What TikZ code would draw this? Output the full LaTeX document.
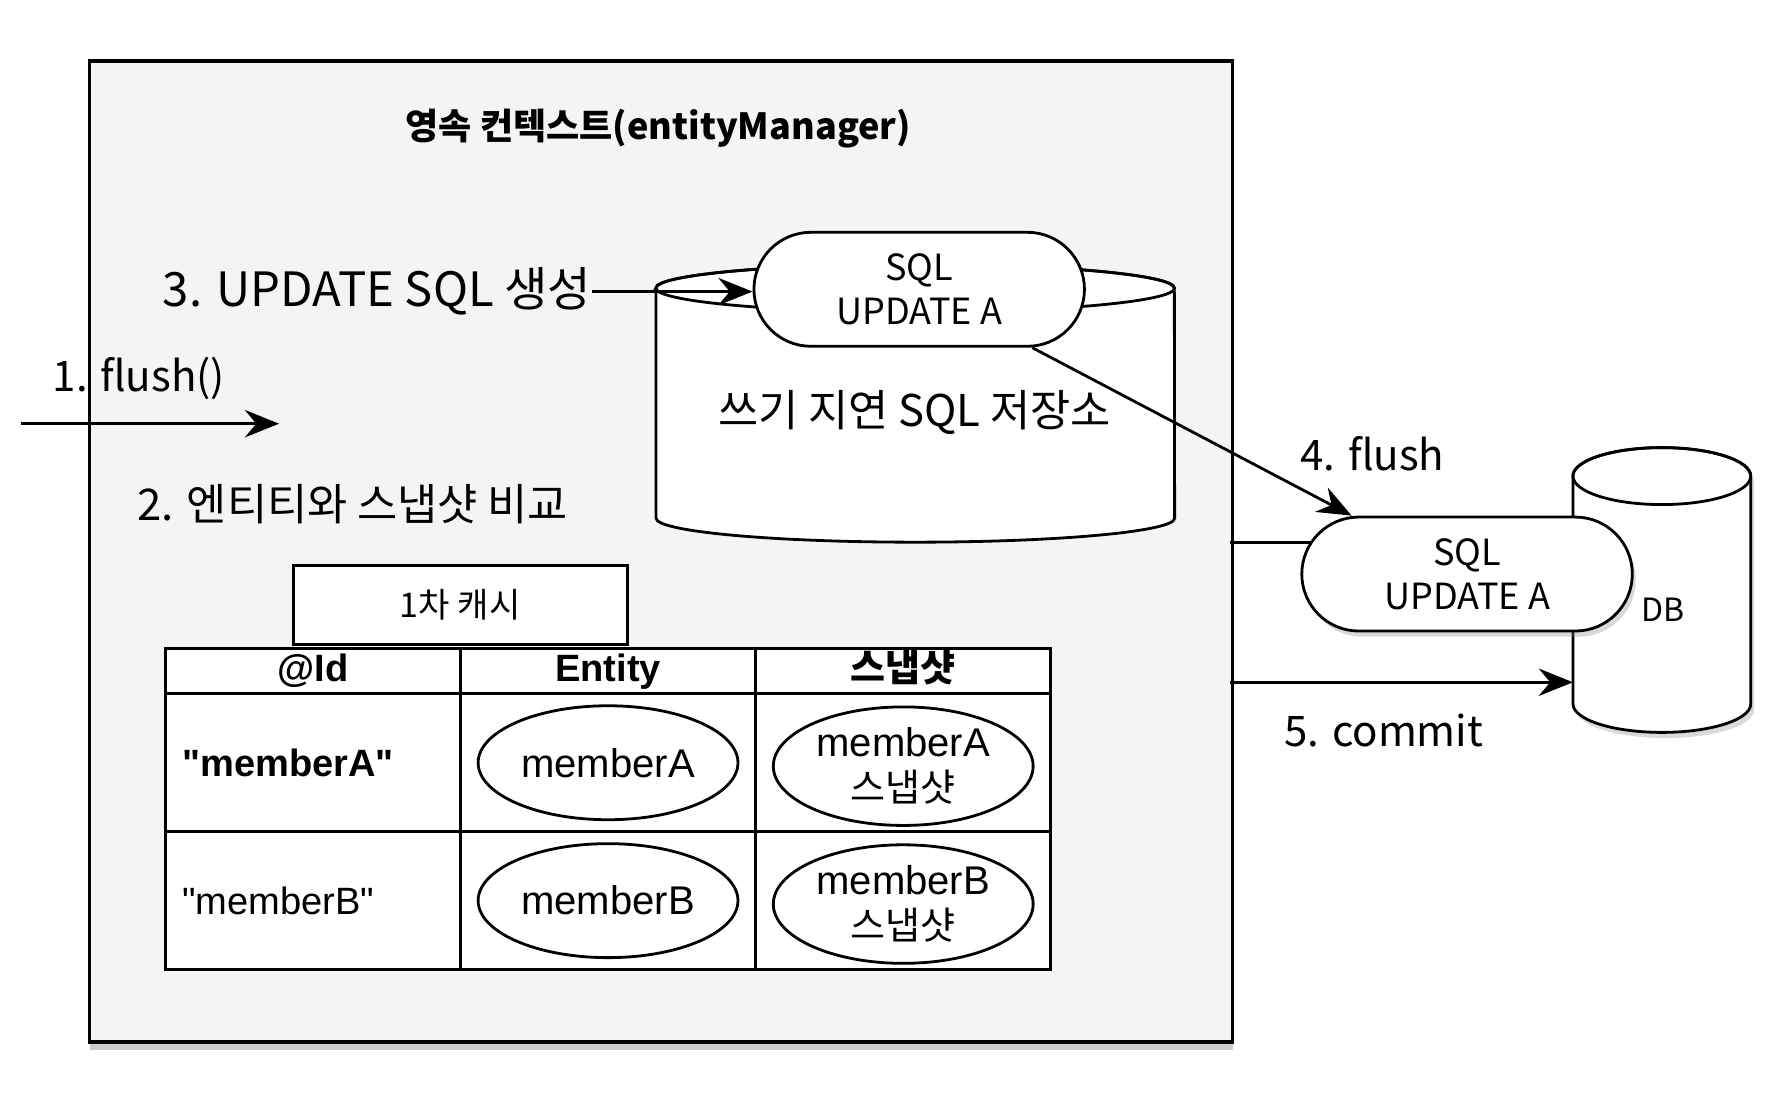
\documentclass[tikz,border=0pt]{standalone}
\usepackage{fontspec}
\setmainfont{Noto Sans CJK KR}
\newfontfamily\arial{Liberation Sans}
\usetikzlibrary{arrows.meta,positioning,matrix,shadows,shapes.geometric}
\definecolor{ctxbg}{HTML}{F4F4F4}
\tikzset{
  arr/.style={-{Stealth[length=0.3cm,width=0.24cm,inset=0.1cm]}, line width=0.7pt},
  ctxbox/.style={draw, fill=ctxbg, line width=0.9pt,
    drop shadow={shadow xshift=0pt, shadow yshift=-0.07cm, opacity=0.4}},
  pill/.style={draw, fill=white, line width=0.7pt, minimum width=2.9cm, minimum height=1.0cm,
    rounded corners=0.5cm, align=center, font=\fontsize{9}{11}\selectfont},
  lbl/.style={font=\fontsize{10.5}{12}\selectfont, inner sep=0pt},
  cachebox/.style={draw, fill=white, line width=0.8pt, minimum width=2.93cm, minimum height=0.69cm,
    font=\fontsize{8.5}{10}\selectfont},
  member/.style={ellipse, draw, fill=white, line width=0.7pt, minimum width=2.28cm, minimum height=1.0cm,
    inner sep=0pt, font=\arial\fontsize{10}{12}\selectfont},
  snapshot/.style={member, minimum height=1.04cm, align=center, font=\fontsize{9.5}{11.2}\selectfont},
}
\begin{document}
\begin{tikzpicture}[x=0.01cm, y=0.01cm]
\useasboundingbox (0,0) rectangle (1568,-971);

% persistence context
\node[ctxbox, anchor=north west, minimum width=10.03cm, minimum height=8.61cm] (ctx) at (77,-52) {};
\node[font=\bfseries\fontsize{9}{11}\selectfont] (ctxtitle) at (578,-113) {영속 컨텍스트(entityManager)};

% write-behind SQL store
\draw[line width=0.7pt, fill=white] (576,-253) -- (576,-455)
    arc[start angle=180, end angle=360, x radius=2.275cm, y radius=0.21cm] -- (1031,-253)
    arc[start angle=0, end angle=180, x radius=2.275cm, y radius=0.21cm] -- cycle;
\draw[line width=0.7pt] (803.5,-253) ellipse[x radius=2.275cm, y radius=0.21cm];
\node[lbl, font=\fontsize{10.9}{12}\selectfont] (storelbl) at (803,-362) {쓰기 지연 SQL 저장소};
\node[pill] (sql1) at (807,-254) {SQL\\UPDATE A};

\node[lbl, font=\fontsize{11.8}{14}\selectfont, anchor=east] (gen) at (520,-256) {3. UPDATE SQL 생성};
\draw[arr] (gen.east) -- (gen.east -| sql1.west);

% flush call
\coordinate (flushin) at (18,-372);
\coordinate (flushend) at (245,-372);
\draw[arr] (flushin) -- (flushend);
\node[lbl] (flushlbl) at (122,-332) {1. flush()};
\node[lbl, anchor=west, font=\fontsize{10.9}{12}\selectfont] (cmp) at (120,-443) {2. 엔티티와 스냅샷 비교};

% first-level cache
\matrix (cache) [matrix of nodes, nodes in empty cells, anchor=north west, inner sep=0pt,
    column sep=-0.8pt, row sep=-0.8pt,
    nodes={draw, fill=white, line width=0.8pt, anchor=center, minimum width=2.59cm, minimum height=1.21cm,
      inner sep=0pt, font=\arial\fontsize{9.5}{11}\selectfont},
    row 1/.style={nodes={minimum height=0.4cm, text height=0.26cm, text depth=0.07cm,
      font=\arial\bfseries\fontsize{9.5}{11}\selectfont}},
    column 1/.style={nodes={text width=2.29cm, inner xsep=0.15cm, align=left}},
    ] at (143,-567) {
    |[align=center]| @Id & Entity & |[font=\bfseries\fontsize{9.5}{11}\selectfont]| 스냅샷 \\
    |[font=\arial\bfseries\fontsize{9.5}{11}\selectfont]| "memberA" & & \\
    "memberB" & & \\
};
\node[cachebox, above right=0pt and 1.13cm of cache.north west] (cachetitle) {1차 캐시};

\foreach \r/\m in {2/A,3/B}{
  \node[member] (ent\m) at (cache-\r-2) {member\m};
  \node[snapshot] (snap\m) at ([yshift=-0.03cm]cache-\r-3) {{\arial\fontsize{10}{11.2}\selectfont member\m}\\스냅샷};
}

% database
\draw[line width=0.7pt, fill=white, drop shadow={shadow xshift=0.03cm, shadow yshift=-0.05cm, opacity=0.3}]
    (1381,-418) -- (1381,-618)
    arc[start angle=180, end angle=360, x radius=0.78cm, y radius=0.25cm] -- (1537,-418)
    arc[start angle=0, end angle=180, x radius=0.78cm, y radius=0.25cm] -- cycle;
\draw[line width=0.7pt] (1459,-418) ellipse[x radius=0.78cm, y radius=0.25cm];
\node[font=\fontsize{8}{10}\selectfont] (dblbl) at (1460,-535) {DB};
\coordinate (dbin) at (1381,-599);

% flush and commit
\coordinate (ctxout) at (1080,-476);
\coordinate (sql2in) at (1190,-476);
\coordinate (ctxcommit) at (1080,-599);
\draw[line width=0.7pt] (ctxout) -- (sql2in);
\node[pill, drop shadow={shadow xshift=0.03cm, shadow yshift=-0.05cm, opacity=0.3}] (sql2) at (1288,-504) {SQL\\UPDATE A};
\draw[arr] ([xshift=-0.47cm]sql1.south east) -- ([xshift=0.45cm]sql2.north west);
\node[lbl] (flush4) at (1205,-398) {4. flush};
\draw[arr] (ctxcommit) -- (dbin);
\node[lbl] (commitlbl) at (1215,-641) {5. commit};

\end{tikzpicture}
\end{document}
